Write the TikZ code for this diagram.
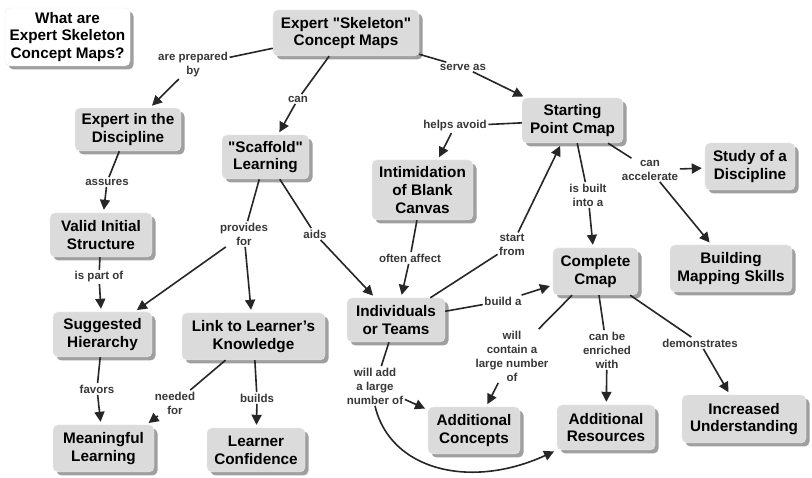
\documentclass[tikz,border=0pt]{standalone}
\usepackage{fontspec}
\setmainfont{Liberation Sans}
\newfontfamily\lsplain{Liberation Sans}
\usetikzlibrary{arrows.meta,shadows}
\newcommand\cmfont{\lsplain\bfseries\fontsize{15.3}{17.8}\selectfont}
\newcommand\lkfont{\lsplain\bfseries\fontsize{11.5}{14}\selectfont}
\tikzset{
  concept/.style={draw=gray!15, fill=gray!28, rounded corners=5pt, align=center,
    font=\cmfont, inner sep=0pt,
    drop shadow={shadow xshift=3.5pt, shadow yshift=-3.5pt, fill=gray!75, opacity=1}},
  linklab/.style={align=center, font=\lkfont, text=black!78, inner sep=1.5pt},
  conn/.style={line width=1.6pt, draw=black!85},
  arr/.style={conn, -{Triangle[length=10pt,width=10pt]}, shorten >=3pt},
}
\begin{document}
\begin{tikzpicture}[x=1pt,y=-1pt]
\fill[white] (0,0) rectangle (812,478);
\useasboundingbox (0,0) rectangle (812,478);

% concepts
\node[concept, fill=white, minimum width=125pt, minimum height=58pt] (title) at (67.5,37) {What are\\Expert Skeleton\\Concept Maps?};
\node[concept, minimum width=146pt, minimum height=46pt] (skel) at (346,33) {Expert "Skeleton"\\Concept Maps};
\node[concept, minimum width=106pt, minimum height=43pt] (expert) at (128,129.5) {Expert in the\\Discipline};
\node[concept, minimum width=87pt, minimum height=44pt] (scaff) at (265.5,157) {"Scaffold"\\Learning};
\node[concept, minimum width=101pt, minimum height=45pt] (start) at (572.5,120.5) {Starting\\Point Cmap};
\node[concept, minimum width=101pt, minimum height=60pt] (intim) at (422.5,190) {Intimidation\\of Blank\\Canvas};
\node[concept, minimum width=90pt, minimum height=47pt] (study) at (750,166.5) {Study of a\\Discipline};
\node[concept, minimum width=122pt, minimum height=47pt] (build) at (731,268.5) {Building\\Mapping Skills};
\node[concept, minimum width=85pt, minimum height=47pt] (compl) at (595.5,271.5) {Complete\\Cmap};
\node[concept, minimum width=102pt, minimum height=44pt] (valid) at (101,235) {Valid Initial\\Structure};
\node[concept, minimum width=99pt, minimum height=45pt] (sugg) at (102.5,334.5) {Suggested\\Hierarchy};
\node[concept, minimum width=143pt, minimum height=47pt] (link) at (253.5,336.5) {Link to Learner’s\\Knowledge};
\node[concept, minimum width=101pt, minimum height=47pt] (mean) at (103.5,448.5) {Meaningful\\Learning};
\node[concept, minimum width=98pt, minimum height=44pt] (conf) at (256,450) {Learner\\Confidence};
\node[concept, minimum width=98pt, minimum height=44pt] (indiv) at (396,320) {Individuals\\or Teams};
\node[concept, minimum width=92pt, minimum height=47pt] (acon) at (474,430.5) {Additional\\Concepts};
\node[concept, minimum width=98pt, minimum height=45pt] (ares) at (606,427.5) {Additional\\Resources};
\node[concept, minimum width=124pt, minimum height=48pt] (incr) at (744,419) {Increased\\Understanding};

% link labels
\node[linklab] (lprep) at (193,65) {are prepared\\by};
\node[linklab] (lcan) at (298,99) {can};
\node[linklab] (lserve) at (463,67) {serve as};
\node[linklab] (lhelps) at (455,126) {helps avoid};
\node[linklab] (lbuilt) at (588,195) {is built\\into a};
\node[linklab] (lacc) at (650,170) {can\\accelerate};
\node[linklab] (lstart) at (512,245) {start\\from};
\node[linklab] (loften) at (410,258) {often affect};
\node[linklab] (lassures) at (107,182) {assures};
\node[linklab] (lprov) at (244,234) {provides\\for};
\node[linklab] (laids) at (315,234) {aids};
\node[linklab] (lpart) at (99,277) {is part of};
\node[linklab] (lfav) at (97,389) {favors};
\node[linklab] (lneed) at (175,403) {needed\\for};
\node[linklab] (lbuilds) at (257,398) {builds};
\node[linklab] (lbuilda) at (503,301) {build a};
\node[linklab] (lcontain) at (512,356) {will\\contain a\\large number\\of};
\node[linklab] (lenrich) at (607,350) {can be\\enriched\\with};
\node[linklab] (ldemo) at (700,343) {demonstrates};
\node[linklab] (ladd) at (375,386) {will add\\a large\\number of};

% connectors
\draw[conn] (skel) -- (lprep);  \draw[arr] (lprep) -- (expert);
\draw[conn] (skel) -- (lcan);   \draw[arr] (lcan) -- (scaff);
\draw[conn] (skel) -- (lserve); \draw[arr] (lserve) -- (start);
\draw[conn] (start) -- (lhelps); \draw[arr] (lhelps) -- (intim);
\draw[conn] (start) -- (lbuilt); \draw[arr] (lbuilt) -- (compl);
\draw[conn] (start) -- (lacc);  \draw[arr] (lacc) -- (study); \draw[arr] (lacc) -- (build);
\draw[conn] (indiv) -- (lstart); \draw[arr] (lstart) -- (start);
\draw[conn] (intim) -- (loften); \draw[arr] (loften) -- (indiv);
\draw[conn] (expert) -- (lassures); \draw[arr] (lassures) -- (valid);
\draw[conn] (scaff) -- (lprov); \draw[arr] (lprov) -- (sugg); \draw[arr] (lprov) -- (link);
\draw[conn] (scaff) -- (laids); \draw[arr] (laids) -- (indiv);
\draw[conn] (valid) -- (lpart); \draw[arr] (lpart) -- (sugg);
\draw[conn] (sugg) -- (lfav); \draw[arr] (lfav) -- (mean);
\draw[conn] (link) -- (lneed); \draw[arr] (lneed) -- ([xshift=-8pt]mean.north east);
\draw[conn] (link) -- (lbuilds); \draw[arr] (lbuilds) -- (conf);
\draw[conn] (indiv) -- (lbuilda); \draw[arr] (lbuilda) -- (compl);
\draw[conn] (compl) -- (lcontain); \draw[arr] (lcontain) -- (acon);
\draw[conn] (compl) -- (lenrich); \draw[arr] (lenrich) -- (ares);
\draw[conn] (compl) -- (ldemo); \draw[arr] (ldemo) -- (incr);
\draw[conn] (indiv) -- (ladd); \draw[arr] (ladd) -- (acon);
\draw[arr] (ladd.south) .. controls (390,470) and (470,490) .. (ares.south west);
\end{tikzpicture}
\end{document}
